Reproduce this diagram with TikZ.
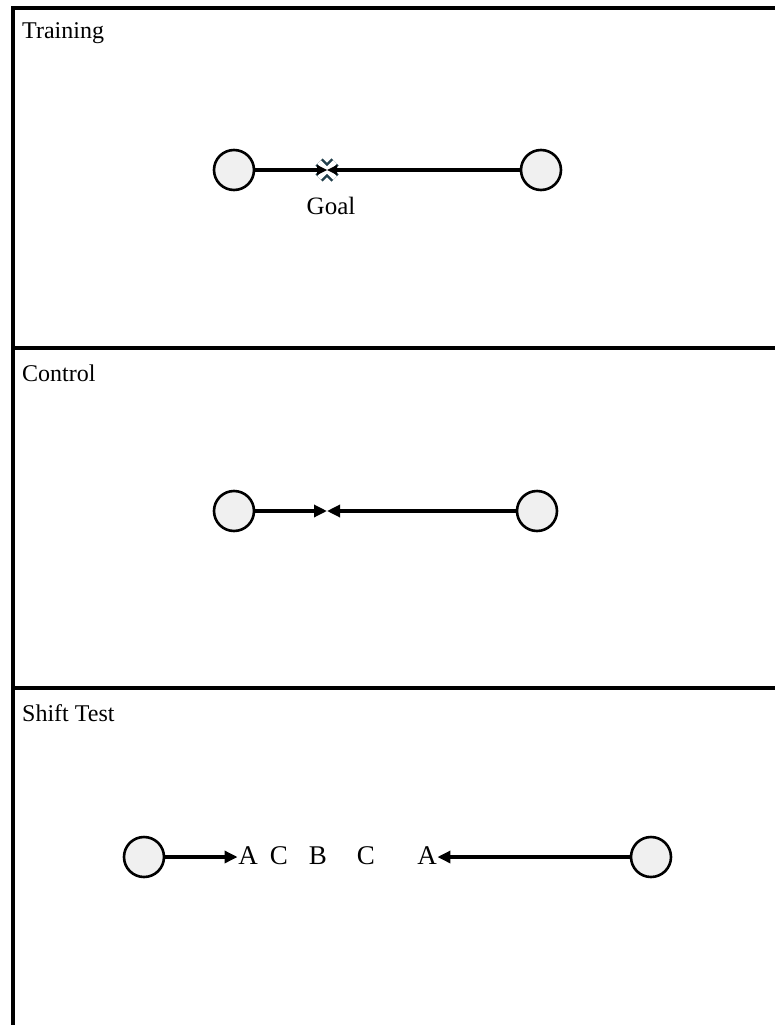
\documentclass[tikz,border=0pt]{standalone}
\usepackage{fontspec}
\setmainfont{Liberation Serif}
\usetikzlibrary{arrows.meta,calc}
\definecolor{circfill}{HTML}{F0F0F0}
\definecolor{goalink}{HTML}{22404C}
\tikzset{
  frame/.style={line width=3.6pt, black},
  station/.style={circle, draw=black, line width=2.6pt, fill=circfill, minimum size=40pt, inner sep=0pt},
  track/.style={line width=3.2pt, black},
  arrowtrack/.style={line width=3.2pt, black, -{Triangle[length=13pt,width=12pt]}},
  paneltitle/.style={anchor=west, inner sep=0pt, font=\fontsize{24}{28}\selectfont},
  letter/.style={inner sep=0.5pt, font=\fontsize{27}{30}\selectfont},
  caption/.style={inner sep=0pt, font=\fontsize{25}{28}\selectfont},
}
\begin{document}
\begin{tikzpicture}[x=1pt, y=-1pt]
\useasboundingbox (0,0) rectangle (775,1025);
\fill[white] (0,0) rectangle (775,1025);

% panel frame
\draw[frame] (13,1025) -- (13,8) -- (775,8);
\draw[frame] (13,348) -- (775,348);
\draw[frame] (13,688) -- (775,688);

% panel titles
\node[paneltitle] (t1) at (22,33) {Training};
\node[paneltitle] (t2) at (22,373) {Control};
\node[paneltitle] (t3) at (22,713) {Shift Test};

% training: track with goal marker
\node[station] (tl) at (234,170) {};
\node[station] (tr) at (541,170) {};
\draw[track] (tl) -- (tr);
\coordinate (goal) at (327,170);
\draw[goalink, line width=10pt] ($(goal)+(-8,-8)$) -- ($(goal)+(8,8)$);
\draw[goalink, line width=10pt] ($(goal)+(-8,8)$) -- ($(goal)+(8,-8)$);
\draw[white, line width=5pt] ($(goal)+(-8,-8)$) -- ($(goal)+(8,8)$);
\draw[white, line width=5pt] ($(goal)+(-8,8)$) -- ($(goal)+(8,-8)$);
\fill[black] ($(goal)+(-10,-5)$) -- (goal) -- ($(goal)+(-10,5)$) -- cycle;
\fill[black] ($(goal)+(10,-5)$) -- (goal) -- ($(goal)+(10,5)$) -- cycle;
\node[caption] (goallabel) at (331,206) {Goal};

% control: two arrows meeting
\node[station] (cl) at (234,511) {};
\node[station] (cr) at (537,511) {};
\coordinate (meet) at (327,511);
\draw[arrowtrack] (cl) -- (meet);
\draw[arrowtrack] (cr) -- (meet);

% shift test
\node[station] (sl) at (144,857) {};
\node[station] (sr) at (651,857) {};
\node[letter] (a1) at (248,856) {A};
\node[letter] (c1) at (279,856) {C};
\node[letter] (b1) at (318,856) {B};
\node[letter] (c2) at (366,856) {C};
\node[letter] (a2) at (427,856) {A};
\draw[arrowtrack] (sl) -- (a1.west |- sl);
\draw[arrowtrack] (sr) -- (a2.east |- sr);
\end{tikzpicture}
\end{document}
